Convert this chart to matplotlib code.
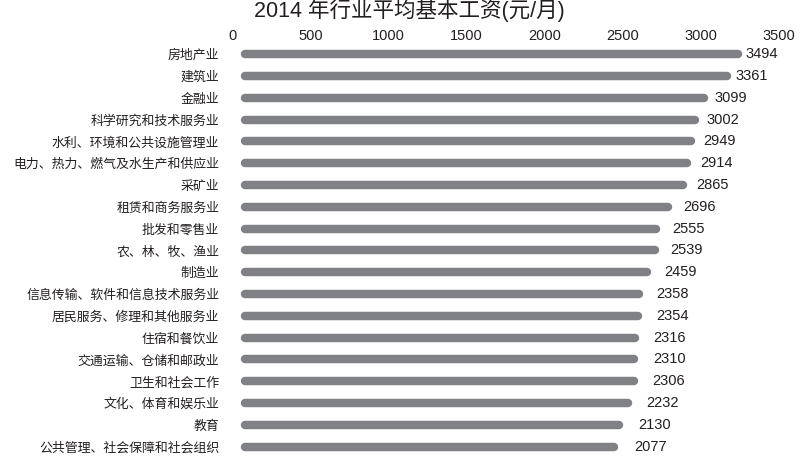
import matplotlib
matplotlib.use("Agg")
import matplotlib.pyplot as plt

# ---------------- data ----------------
title = "2014 年行业平均基本工资(元/月)"
categories = ['房地产业', '建筑业', '金融业', '科学研究和技术服务业',
              '水利、环境和公共设施管理业', '电力、热力、燃气及水生产和供应业',
              '采矿业', '租赁和商务服务业', '批发和零售业', '农、林、牧、渔业',
              '制造业', '信息传输、软件和信息技术服务业', '居民服务、修理和其他服务业',
              '住宿和餐饮业', '交通运输、仓储和邮政业', '卫生和社会工作',
              '文化、体育和娱乐业', '教育', '公共管理、社会保障和社会组织']
values = [3494, 3361, 3099, 3002, 2949, 2914, 2865, 2696, 2555, 2539,
          2459, 2358, 2354, 2316, 2310, 2306, 2232, 2130, 2077]
tick_values = [0, 500, 1000, 1500, 2000, 2500, 3000, 3500]

# ---------------- style / layout ----------------
W, H = 807, 462
BAR_COLOR = '#808185'
TEXT_COLOR = '#231f20'
CJK = ['Noto Sans CJK SC', 'DejaVu Sans']
NUM = ['Liberation Sans', 'Noto Sans CJK SC']

# the original infographic uses slightly different linear scales for the
# bars, the value labels and the top tick row (pixel = a + b * value)
BAR_SCALE = (431.25, 0.08793)     # centre of the bar's round end cap
LABEL_SCALE = (472.0, 0.07827)
TICK_SCALE = (232.5, 0.15614)
BAR_BASE = -2118                  # where the bars start on the bar scale

row_top_px, row_step_px = 54.2, 21.8
n = len(categories)
top_px = row_top_px - row_step_px / 2
bot_px = row_top_px + row_step_px * (n - 1) + row_step_px / 2


def rect(l_px, r_px):
    return [l_px / W, 1 - bot_px / H, (r_px - l_px) / W, (bot_px - top_px) / H]


def lims(scale, l_px, r_px):
    a, b = scale
    return ((l_px - a) / b, (r_px - a) / b)


fig = plt.figure(figsize=(W / 100, H / 100), dpi=100)
fig.patch.set_facecolor('white')

ypos = list(range(n))

# bar axes
ax = fig.add_axes(rect(240, 790))
ax.set_xlim(*lims(BAR_SCALE, 240, 790))
ax.set_ylim(n - 0.5, -0.5)
ax.hlines(ypos, BAR_BASE, values, colors=BAR_COLOR, linewidth=6.1,
          capstyle='round')
ax.set_yticks(ypos)
ax.set_yticklabels(categories, family=CJK, fontsize=9.3, color=TEXT_COLOR)
ax.tick_params(axis='y', length=0, pad=15)
ax.set_xticks([])
for s in ax.spines.values():
    s.set_visible(False)
ax.patch.set_alpha(0)

# value labels axes
axl = fig.add_axes(rect(240, 790))
axl.set_xlim(*lims(LABEL_SCALE, 240, 790))
axl.set_ylim(n - 0.5, -0.5)
axl.axis('off')
for y, v in zip(ypos, values):
    axl.text(v, y, f"{v}", ha='left', va='center', family=NUM,
             fontsize=10.5, color=TEXT_COLOR)

# top tick row axes
axt = fig.add_axes(rect(200, 800))
axt.set_xlim(*lims(TICK_SCALE, 200, 800))
axt.set_ylim(n - 0.5, -0.5)
axt.patch.set_alpha(0)
for s in axt.spines.values():
    s.set_visible(False)
axt.set_yticks([])
axt.xaxis.tick_top()
axt.set_xticks(tick_values)
axt.set_xticklabels([str(t) for t in tick_values], family=NUM,
                    fontsize=10.5, color=TEXT_COLOR)
axt.tick_params(axis='x', length=0, pad=0)

fig.text(409 / W, 1 - 10.5 / H, title, ha='center', va='center',
         family=['Liberation Sans', 'Noto Sans CJK SC'], fontsize=15.5,
         color=TEXT_COLOR)

fig.savefig('out.png', dpi=100, facecolor='white')
